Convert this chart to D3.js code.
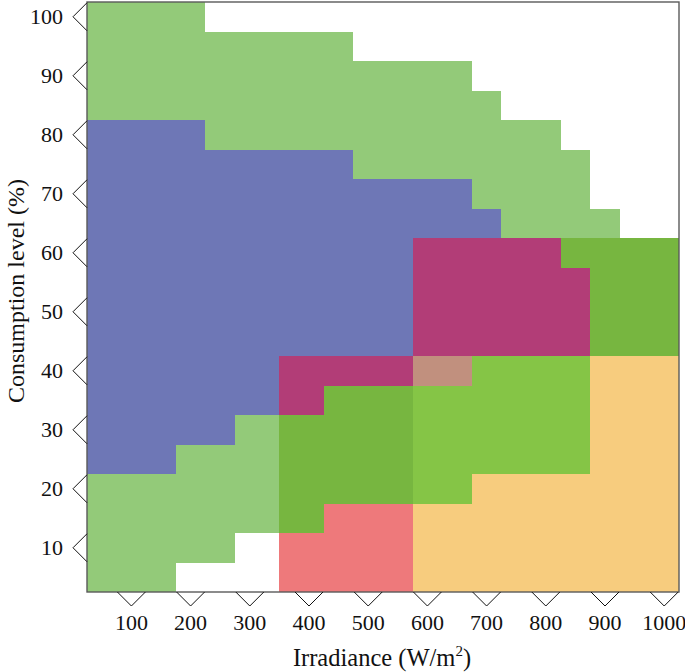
<!DOCTYPE html>
<html>
<head>
<meta charset="utf-8">
<script src="https://cdn.jsdelivr.net/npm/d3@7"></script>
<style>
html,body{margin:0;padding:0;background:#fff;}
svg{display:block;}
text{font-family:"Liberation Serif","DejaVu Serif",serif;fill:#111;}
</style>
</head>
<body>
<div id="chart"></div>
<script>
// ---- data (irradiance W/m2 from..to, consumption % from..to) ----
const xTicks = [100,200,300,400,500,600,700,800,900,1000];
const yTicks = [10,20,30,40,50,60,70,80,90,100];
const xDomain = [25,1025];
const yDomain = [2.5,102.5];

const regionNames = ["upperGreen","blue","lowerGreen","darkGreen","salmon","magenta","brightGreen","orange","rightGreen","overlap"];
const regionColors = ["#93ca79","#6e77b6","#93ca79","#77b640","#ee797b","#b23d77","#85c546","#f7cc7e","#77b640","#c1907e"];
// each region: list of [x0, x1, y0, y1]
const upperGreen = [[25,225,82.5,102.5],[225,475,77.5,97.5],[475,675,72.5,92.5],[675,725,67.5,87.5],[725,825,62.5,82.5],[825,875,62.5,77.5],[875,925,62.5,67.5]];
const blue = [[25,175,22.5,82.5],[175,225,27.5,82.5],[225,275,27.5,77.5],[275,350,32.5,77.5],[350,475,42.5,77.5],[475,575,42.5,72.5],[575,675,62.5,72.5],[675,725,62.5,67.5]];
const lowerGreen = [[25,175,2.5,22.5],[175,275,7.5,27.5],[275,350,12.5,32.5]];
const darkGreen = [[350,425,12.5,32.5],[425,575,17.5,37.5]];
const salmon = [[350,425,2.5,12.5],[425,575,2.5,17.5]];
const magenta = [[575,825,42.5,62.5],[825,875,42.5,57.5],[350,575,37.5,42.5],[350,425,32.5,37.5]];
const brightGreen = [[575,675,17.5,37.5],[675,875,22.5,42.5]];
const orange = [[575,675,2.5,17.5],[675,875,2.5,22.5],[875,1025,2.5,42.5]];
const rightGreen = [[825,875,57.5,62.5],[875,1025,42.5,62.5]];
const overlap = [[575,675,37.5,42.5]];
const regionRects = [upperGreen,blue,lowerGreen,darkGreen,salmon,magenta,brightGreen,orange,rightGreen,overlap];

// ---- layout ----
const W = 685, H = 672;
const m = {left:87, top:2, right:6, bottom:80};
const svg = d3.select("#chart").append("svg").attr("width",W).attr("height",H);
const x = d3.scaleLinear().domain(xDomain).range([m.left, W - m.right]);
const y = d3.scaleLinear().domain(yDomain).range([H - m.bottom, m.top]);

const cells = [];
regionRects.forEach((rs,i) => rs.forEach(r => cells.push({name:regionNames[i], color:regionColors[i], r})));

svg.append("g").selectAll("rect").data(cells).join("rect")
  .attr("x", d => x(d.r[0]))
  .attr("width", d => x(d.r[1]) - x(d.r[0]))
  .attr("y", d => y(d.r[3]))
  .attr("height", d => y(d.r[2]) - y(d.r[3]))
  .attr("fill", d => d.color)
  .attr("shape-rendering","crispEdges");

// frame
svg.append("rect")
  .attr("x", x(xDomain[0])).attr("y", y(yDomain[1]))
  .attr("width", x(xDomain[1]) - x(xDomain[0]))
  .attr("height", y(yDomain[0]) - y(yDomain[1]))
  .attr("fill","none").attr("stroke","#5a5a5a").attr("stroke-width",1.4);

// chevron ticks
const cs = 14;
const x0 = x(xDomain[0]), yb = y(yDomain[0]);
svg.append("g").selectAll("path").data(yTicks).join("path")
  .attr("d", v => `M${x0},${y(v)-cs} L${x0-cs},${y(v)} L${x0},${y(v)+cs}`)
  .attr("fill","none").attr("stroke","#111").attr("stroke-width",1);
svg.append("g").selectAll("path").data(xTicks).join("path")
  .attr("d", v => `M${x(v)-cs},${yb} L${x(v)},${yb+cs} L${x(v)+cs},${yb}`)
  .attr("fill","none").attr("stroke","#111").attr("stroke-width",1);

// tick labels
svg.append("g").selectAll("text").data(yTicks).join("text")
  .attr("x", 63).attr("y", v => y(v) + 7.5)
  .attr("text-anchor","end").attr("font-size",22).text(v => v);
svg.append("g").selectAll("text").data(xTicks).join("text")
  .attr("x", v => x(v)).attr("y", 630)
  .attr("text-anchor","middle").attr("font-size",22).text(v => v);

// axis titles
const xt = svg.append("text").attr("x", 382).attr("y", 666)
  .attr("text-anchor","middle").attr("font-size",24.5);
xt.append("tspan").text("Irradiance (W/m");
xt.append("tspan").attr("font-size",15).attr("dy",-10).text("2");
xt.append("tspan").attr("dy",10).text(")");

svg.append("text")
  .attr("transform","translate(24,291) rotate(-90)")
  .attr("text-anchor","middle").attr("font-size",24)
  .text("Consumption level (%)");
</script>
</body>
</html>
